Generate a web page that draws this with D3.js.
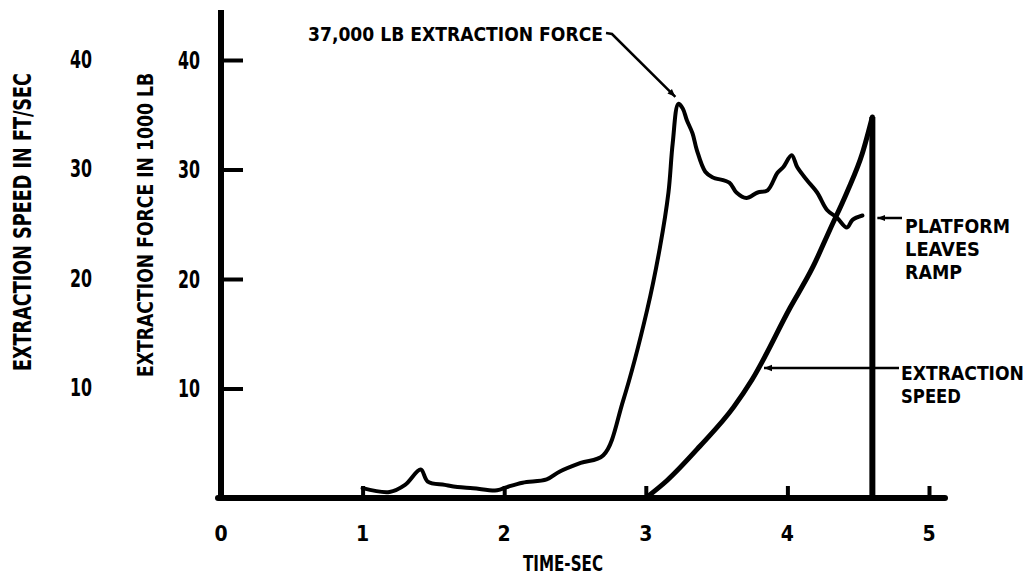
<!DOCTYPE html>
<html>
<head>
<meta charset="utf-8">
<script src="https://cdn.jsdelivr.net/npm/d3@7"></script>
<style>
  html, body { margin: 0; padding: 0; background: #fff; }
  svg { display: block; }
  text { font-family: "DejaVu Sans Condensed", "Liberation Sans Narrow", "Liberation Sans", sans-serif; fill: #000; }
</style>
</head>
<body>
<svg id="chart" width="1033" height="576"></svg>
<script>
// ---- data ----
const forceTime  = [1.00, 1.19, 1.30, 1.41, 1.46, 1.58, 1.67, 1.78, 1.95, 2.02, 2.13, 2.30, 2.39, 2.54, 2.70, 2.84, 3.01, 3.10, 3.16, 3.19, 3.23, 3.26, 3.29, 3.33, 3.36, 3.42, 3.47, 3.59, 3.64, 3.71, 3.79, 3.86, 3.93, 3.97, 4.03, 4.07, 4.14, 4.21, 4.28, 4.35, 4.42, 4.46, 4.53];
const forceValue = [0.9, 0.55, 1.2, 2.6, 1.5, 1.2, 1.0, 0.9, 0.7, 1.0, 1.4, 1.7, 2.4, 3.2, 3.9, 8.9, 17.2, 22.9, 27.9, 32.4, 36.0, 35.6, 34.5, 33.3, 31.8, 29.8, 29.3, 28.8, 27.9, 27.4, 27.9, 28.1, 29.7, 30.2, 31.3, 30.2, 29.0, 27.9, 26.3, 25.6, 24.7, 25.4, 25.8];
const speedTime  = [3.00, 3.15, 3.38, 3.62, 3.75, 4.02, 4.18, 4.30, 4.42, 4.53, 4.60];
const speedValue = [0.0, 1.6, 4.7, 8.3, 10.8, 17.4, 21.1, 24.5, 27.9, 31.5, 34.8];
const platformLeavesTime = 4.60;
const xTicks = [0, 1, 2, 3, 4, 5];
const yTicks = [10, 20, 30, 40];
const xTitle = "TIME-SEC";
const forceTitle = "EXTRACTION FORCE IN 1000 LB";
const speedTitle = "EXTRACTION SPEED IN FT/SEC";
const peakLabel = "37,000 LB EXTRACTION FORCE";
const platformLabel = ["PLATFORM", "LEAVES", "RAMP"];
const speedLabel = ["EXTRACTION", "SPEED"];

// ---- scales ----
const svg = d3.select("#chart");
svg.append("rect").attr("width", 1033).attr("height", 576).attr("fill", "#fff");

const x = d3.scaleLinear().domain([0, 5]).range([221, 929]);
const y = d3.scaleLinear().domain([0, 40]).range([498, 60]);

svg.append("defs").append("marker")
  .attr("id", "arrow").attr("viewBox", "0 0 10 10")
  .attr("refX", 10).attr("refY", 5)
  .attr("markerWidth", 8).attr("markerHeight", 8)
  .attr("markerUnits", "userSpaceOnUse")
  .attr("orient", "auto")
  .append("path").attr("d", "M0,1 L10,5 L0,9 Z").attr("fill", "#000");

// fit a text to a given width by horizontal scaling
function fitText(sel, width) {
  sel.attr("textLength", width).attr("lengthAdjust", "spacingAndGlyphs");
}

// ---- axes ----
const gy = svg.append("g").attr("transform", `translate(${x(0)},0)`)
  .call(d3.axisRight(y).tickValues(yTicks).tickSize(22).tickFormat(""));
gy.select(".domain").remove();
gy.selectAll(".tick line").attr("stroke", "#000").attr("stroke-width", 4);

const gx = svg.append("g").attr("transform", `translate(0,${y(0)})`)
  .call(d3.axisTop(x).tickValues(xTicks.filter(d => d > 0)).tickSize(12).tickFormat(""));
gx.select(".domain").remove();
gx.selectAll(".tick line").attr("stroke", "#000").attr("stroke-width", 4);

// axis lines
svg.append("line").attr("x1", x(0)).attr("x2", x(0)).attr("y1", 10).attr("y2", y(0) + 3)
  .attr("stroke", "#000").attr("stroke-width", 6);
svg.append("line").attr("x1", x(0) - 3).attr("x2", x(5) + 16).attr("y1", y(0)).attr("y2", y(0))
  .attr("stroke", "#000").attr("stroke-width", 6).attr("stroke-linecap", "round");

// tick labels
svg.append("g").selectAll("text").data(yTicks).join("text")
  .attr("x", 189).attr("y", d => y(d)).attr("dy", "0.36em")
  .attr("text-anchor", "middle").attr("font-size", 24).attr("font-weight", "bold")
  .attr("textLength", 22).attr("lengthAdjust", "spacingAndGlyphs")
  .text(d => d);
svg.append("g").selectAll("text").data(yTicks).join("text")
  .attr("x", 81).attr("y", d => y(d) - 1).attr("dy", "0.36em")
  .attr("text-anchor", "middle").attr("font-size", 24).attr("font-weight", "bold")
  .attr("textLength", 22).attr("lengthAdjust", "spacingAndGlyphs")
  .text(d => d);
svg.append("g").selectAll("text").data(xTicks).join("text")
  .attr("x", d => x(d)).attr("y", 533).attr("dy", "0.36em")
  .attr("text-anchor", "middle").attr("font-size", 21).attr("font-weight", "bold")
  .text(d => d);

// axis titles
svg.append("text").attr("transform", "translate(563,571)")
  .attr("text-anchor", "middle").attr("font-size", 21).attr("font-weight", "bold")
  .attr("textLength", 80).attr("lengthAdjust", "spacingAndGlyphs")
  .text(xTitle);
svg.append("text").attr("transform", "translate(153,225) rotate(-90)")
  .attr("text-anchor", "middle").attr("font-size", 22).attr("font-weight", "bold")
  .attr("textLength", 304).attr("lengthAdjust", "spacingAndGlyphs")
  .text(forceTitle);
svg.append("text").attr("transform", "translate(31,222) rotate(-90)")
  .attr("text-anchor", "middle").attr("font-size", 24).attr("font-weight", "bold")
  .attr("textLength", 298).attr("lengthAdjust", "spacingAndGlyphs")
  .text(speedTitle);

// ---- series ----
const forceData = forceTime.map((t, i) => [t, forceValue[i]]);
const speedData = speedTime.map((t, i) => [t, speedValue[i]]);

const forceLine = d3.line().x(d => x(d[0])).y(d => y(d[1])).curve(d3.curveCatmullRom.alpha(0.5));
const speedLine = d3.line().x(d => x(d[0])).y(d => y(d[1])).curve(d3.curveMonotoneX);

svg.append("path").datum(forceData).attr("d", forceLine)
  .attr("fill", "none").attr("stroke", "#000").attr("stroke-width", 4)
  .attr("stroke-linejoin", "round").attr("stroke-linecap", "round");
svg.append("path").datum(speedData).attr("d", speedLine)
  .attr("fill", "none").attr("stroke", "#000").attr("stroke-width", 5)
  .attr("stroke-linejoin", "round").attr("stroke-linecap", "round");

// platform leaves ramp vertical line
svg.append("line")
  .attr("x1", x(platformLeavesTime)).attr("x2", x(platformLeavesTime))
  .attr("y1", y(speedValue[speedValue.length - 1])).attr("y2", y(0))
  .attr("stroke", "#000").attr("stroke-width", 6);

// ---- annotations ----
svg.append("text").attr("x", 308).attr("y", 41).attr("font-size", 20).attr("font-weight", "bold")
  .attr("textLength", 295).attr("lengthAdjust", "spacingAndGlyphs")
  .text(peakLabel);
svg.append("path")
  .attr("d", `M606,33 L612,34 L${x(3.23) - 3},${y(36.0) - 7}`)
  .attr("fill", "none").attr("stroke", "#000").attr("stroke-width", 2.5)
  .attr("marker-end", "url(#arrow)");

const platformWidths = [105, 75, 57];
const platformBase = [233, 256, 279];
platformLabel.forEach((s, i) => {
  const t = svg.append("text").attr("x", 905).attr("y", platformBase[i])
    .attr("font-size", 19.5).attr("font-weight", "bold").text(s);
  fitText(t, platformWidths[i]);
});
svg.append("line").attr("x1", 902).attr("x2", x(platformLeavesTime) + 5).attr("y1", 218).attr("y2", 218)
  .attr("stroke", "#000").attr("stroke-width", 2.5).attr("marker-end", "url(#arrow)");

const speedWidths = [123, 60];
const speedBase = [380, 403];
speedLabel.forEach((s, i) => {
  const t = svg.append("text").attr("x", 901).attr("y", speedBase[i])
    .attr("font-size", 19.5).attr("font-weight", "bold").text(s);
  fitText(t, speedWidths[i]);
});
svg.append("line").attr("x1", 899).attr("x2", 764).attr("y1", 368).attr("y2", 368)
  .attr("stroke", "#000").attr("stroke-width", 2.5).attr("marker-end", "url(#arrow)");
</script>
</body>
</html>
